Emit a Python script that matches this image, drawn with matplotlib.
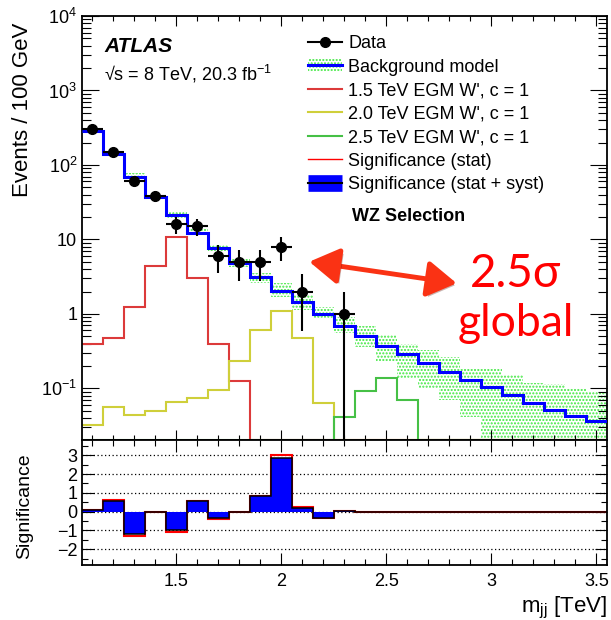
import numpy as np
import matplotlib
matplotlib.use("Agg")
import matplotlib.pyplot as plt
import matplotlib.patheffects as pe
from matplotlib.lines import Line2D
from matplotlib.patches import Patch
from matplotlib.ticker import (MultipleLocator, FixedLocator, LogLocator,
                               NullFormatter, FormatStrFormatter)

plt.rcParams['font.family'] = ['Liberation Sans', 'DejaVu Sans']
plt.rcParams['mathtext.default'] = 'regular'
plt.rcParams['hatch.linewidth'] = 1.0

# 100 GeV bins in m_jj [TeV]
bin_edges = [1.05, 1.15, 1.25, 1.35, 1.45, 1.55, 1.65, 1.75, 1.85, 1.95, 2.05,
             2.15, 2.25, 2.35, 2.45, 2.55, 2.65, 2.75, 2.85, 2.95, 3.05, 3.15,
             3.25, 3.35, 3.45, 3.55]

# background model and its uncertainty band (events / 100 GeV)
bkg = [286, 142, 70, 37.6, 21.1, 12.2, 7.6, 4.8, 3.17, 2.05, 1.45, 1.0, 0.69,
       0.50, 0.37, 0.286, 0.218, 0.167, 0.129, 0.103, 0.081, 0.064, 0.052,
       0.043, 0.036]
bkg_hi = [300, 151, 77, 40, 24, 14, 8.4, 5.4, 3.6, 2.58, 1.8, 1.23, 0.91,
          0.68, 0.52, 0.40, 0.33, 0.262, 0.183, 0.18, 0.152, 0.117, 0.113,
          0.101, 0.091]
bkg_lo = [274, 135, 66, 35.5, 19.5, 11.7, 6.9, 4.3, 2.6, 1.71, 1.13, 0.85,
          0.56, 0.36, 0.225, 0.135, 0.102, 0.07, 0.041, 0, 0, 0, 0, 0, 0]

# EGM W' signals, c = 1
sig_15 = [0.40, 0.47, 1.25, 4.4, 10.9, 3.0, 0.40, 0.126, 0, 0, 0, 0, 0, 0, 0,
          0, 0, 0, 0, 0, 0, 0, 0, 0, 0]
sig_20 = [0.032, 0.057, 0.044, 0.050, 0.066, 0.074, 0.095, 0.236, 0.60, 1.1,
          0.48, 0.063, 0, 0, 0, 0, 0, 0, 0, 0, 0, 0, 0, 0, 0]
sig_25 = [0, 0, 0, 0, 0, 0, 0, 0, 0, 0, 0, 0.0205, 0.041, 0.092, 0.136, 0.069,
          0, 0, 0, 0, 0, 0, 0, 0, 0]

# data
data_x = [1.1, 1.2, 1.3, 1.4, 1.5, 1.6, 1.7, 1.8, 1.9, 2.0, 2.1, 2.2, 2.3]
data_n = [300, 150, 61, 38, 16, 15, 6, 5, 5, 8, 2, 0, 1]

# significance per bin
signif_syst = [0.09, 0.57, -1.2, 0, -0.99, 0.55, -0.35, 0, 0.82, 2.87, 0.21,
               -0.32, 0.03, 0, 0, 0, 0, 0, 0, 0, 0, 0, 0, 0, 0]
signif_stat = [0.10, 0.64, -1.31, 0, -1.10, 0.57, -0.40, 0, 0.82, 3.0, 0.22,
               -0.34, 0.03, 0, 0, 0, 0, 0, 0, 0, 0, 0, 0, 0, 0]

YMIN, YMAX = 0.0203, 1e4
RED = '#dc3a3a'
YELLOW = '#cfcf3a'
GREEN = '#46c046'
BAND = '#3ee83e'

fig = plt.figure(figsize=(6.11, 6.2), dpi=100)
ax = fig.add_axes([0.1342, 0.2903, 0.8592, 0.6839])
axr = fig.add_axes([0.1342, 0.0887, 0.8592, 0.2016], sharex=ax)

edges = np.array(bin_edges)


def floor(vals):
    # ROOT draws empty bins along the bottom of a log axis
    return np.clip(np.array(vals, dtype=float), YMIN, None)


# ---- upper panel
ax.set_yscale('log')
ax.stairs(floor(bkg_hi), edges, baseline=floor(bkg_lo), fill=True,
          facecolor='white', edgecolor=BAND, hatch='.....', linewidth=0,
          zorder=1)
ax.stairs(floor(sig_15), edges, baseline=None, color=RED, lw=1.5, zorder=2)
ax.stairs(floor(sig_20), edges, baseline=None, color=YELLOW, lw=1.5, zorder=2)
ax.stairs(floor(sig_25), edges, baseline=None, color=GREEN, lw=1.5, zorder=2)
ax.stairs(bkg, edges, baseline=None, color='blue', lw=2.2, zorder=3)

dx = np.array(data_x)
dn = np.array(data_n, dtype=float)
keep = dn > 0
ax.errorbar(dx[keep], dn[keep], xerr=0.05, yerr=np.sqrt(dn[keep]), fmt='o',
            color='k', markersize=7, elinewidth=1.5, capsize=0, zorder=4)

ax.set_xlim(edges[0], edges[-1])
ax.set_ylim(YMIN, YMAX)
ax.yaxis.set_major_locator(FixedLocator([0.1, 1, 10, 100, 1e3, 1e4]))
ax.set_yticklabels(['10$^{-1}$', '1', '10', '10$^{2}$', '10$^{3}$',
                    '10$^{4}$'])
ax.yaxis.set_minor_locator(LogLocator(base=10, subs=np.arange(2, 10),
                                      numticks=20))
ax.yaxis.set_minor_formatter(NullFormatter())
ax.xaxis.set_major_locator(MultipleLocator(0.5))
ax.xaxis.set_minor_locator(MultipleLocator(0.1))
ax.tick_params(which='both', direction='in', top=True, right=True, width=0.8)
ax.tick_params(axis='x', which='major', length=7, labelbottom=False)
ax.tick_params(axis='x', which='minor', length=3.6)
ax.tick_params(axis='y', which='major', length=12, labelsize=13)
ax.tick_params(axis='y', which='minor', length=6.5)
ax.set_ylabel('Events / 100 GeV', fontsize=16, loc='top')
ax.yaxis.set_label_coords(-0.093, 0.985)

ax.text(0.042, 0.916, 'ATLAS', transform=ax.transAxes, fontsize=15,
        fontweight='bold', fontstyle='italic')
ax.text(0.042, 0.849, '√s = 8 TeV, 20.3 fb$^{-1}$', transform=ax.transAxes,
        fontsize=13)
ax.text(0.514, 0.526, 'WZ Selection', transform=ax.transAxes, fontsize=13,
        fontweight='bold', va='center')

handles = [
    Line2D([], [], color='k', marker='o', markersize=7, lw=1.5),
    (Patch(facecolor='white', edgecolor=BAND, hatch='.....', lw=0),
     Line2D([], [], color='blue', lw=2.2)),
    Line2D([], [], color=RED, lw=1.5),
    Line2D([], [], color=YELLOW, lw=1.5),
    Line2D([], [], color=GREEN, lw=1.5),
    Line2D([], [], color='red', lw=1),
    (Line2D([], [], color='blue', lw=12, solid_capstyle='butt'),
     Line2D([], [], color='k', lw=1.5)),
]
labels = ['Data', 'Background model', "1.5 TeV EGM W', c = 1",
          "2.0 TeV EGM W', c = 1", "2.5 TeV EGM W', c = 1",
          'Significance (stat)', 'Significance (stat + syst)']
ax.legend(handles, labels, loc='upper left', bbox_to_anchor=(0.43, 0.955),
          frameon=False, fontsize=13, handlelength=1.9, handletextpad=0.35,
          labelspacing=0.36, borderpad=0, borderaxespad=0, numpoints=1)

# the 2.5 sigma annotation
ax.annotate('', xy=(0.433, 0.4205), xytext=(0.7137, 0.3696),
            xycoords='axes fraction', textcoords='axes fraction',
            arrowprops=dict(arrowstyle='<|-|>,head_length=0.9,head_width=0.55',
                            color='#fa3214', lw=3.5, shrinkA=0, shrinkB=0,
                            mutation_scale=20,
                            path_effects=[pe.withSimplePatchShadow(
                                offset=(2, -2), alpha=0.3)]))
ax.text(0.8267, 0.361, '2.5σ', transform=ax.transAxes, color='red',
        fontsize=33, ha='center', va='baseline', family=['Lato', 'DejaVu Sans'])
ax.text(0.8267, 0.245, 'global', transform=ax.transAxes, color='red',
        fontsize=32, ha='center', va='baseline', family=['Lato', 'DejaVu Sans'])

# ---- lower panel
axr.stairs(signif_stat, edges, baseline=0, color='red', lw=1.5, zorder=2)
axr.stairs(signif_syst, edges, baseline=0, fill=True, color='blue', zorder=3)
axr.stairs(signif_syst, edges, baseline=0, color='k', lw=1.1, zorder=4)
axr.set_axisbelow(True)
axr.grid(axis='y', which='major', color='k', ls=(0, (1, 2)), lw=0.9)
axr.set_ylim(-2.84, 3.81)
axr.yaxis.set_major_locator(MultipleLocator(1))
axr.yaxis.set_minor_locator(MultipleLocator(0.5))
axr.xaxis.set_major_formatter(FormatStrFormatter('%g'))
axr.tick_params(which='both', direction='in', top=True, right=True, width=0.8)
axr.tick_params(which='major', length=8.5, labelsize=13)
axr.tick_params(which='minor', length=4.3)
axr.tick_params(axis='x', pad=6)
axr.set_xlabel('m$_{jj}$ [TeV]', fontsize=16, loc='right', labelpad=3)
axr.set_ylabel('Significance', fontsize=14)
axr.yaxis.set_label_coords(-0.093, 0.47)

for a in (ax, axr):
    for s in a.spines.values():
        s.set_linewidth(1.3)

fig.savefig('out.png', dpi=100)
